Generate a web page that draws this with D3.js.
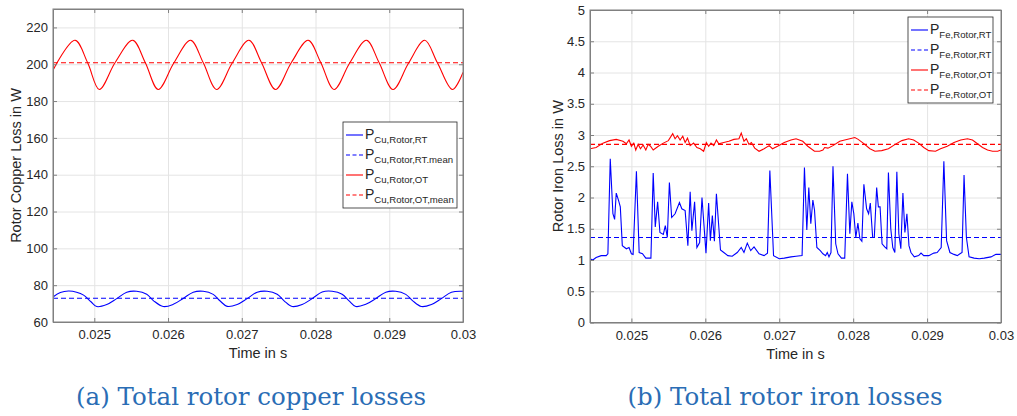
<!DOCTYPE html>
<html>
<head>
<meta charset="utf-8">
<script src="https://cdn.jsdelivr.net/npm/d3@7/dist/d3.min.js"></script>
<style>
body { margin: 0; background: #fff; }
svg { display: block; }
.tick text { font-family: "Liberation Sans", Arial, sans-serif; font-size: 13px; fill: #262626; }
</style>
</head>
<body>
<div id="chart"></div>
<script>
// shared time axis (s)
var timeDomain = [0.02444, 0.03];
var timeTicks = [0.025, 0.026, 0.027, 0.028, 0.029, 0.03];

// (a) rotor copper losses, W
var cuTicks = [60, 80, 100, 120, 140, 160, 180, 200, 220];
var cuOtTime = [0.02444, 0.024738, 0.024910, 0.025068, 0.025281, 0.025520, 0.025692, 0.025867,
    0.026080, 0.026306, 0.026478, 0.026659, 0.026872, 0.027096, 0.027268, 0.027458,
    0.027671, 0.027900, 0.028072, 0.028252, 0.028465, 0.028691, 0.028863, 0.029051,
    0.029264, 0.029481, 0.029653, 0.029856, 0.03];
var cuOtVal = [196.8, 213.0, 200.8, 186.3, 200.8, 213.0, 200.8, 186.3,
    200.8, 213.0, 200.8, 186.3, 200.8, 213.0, 200.8, 186.3,
    200.8, 213.0, 200.8, 186.3, 200.8, 213.0, 200.8, 186.3,
    200.8, 213.0, 200.8, 186.3, 195.6];
var cuRtTime = [0.02444, 0.024540, 0.024650, 0.024760, 0.024855, 0.024955,
    0.025033, 0.025169, 0.025304, 0.025440, 0.025575, 0.025711, 0.025805,
    0.025935, 0.026071, 0.026206, 0.026342, 0.026477, 0.026613, 0.026707,
    0.026802, 0.026938, 0.027073, 0.027209, 0.027344, 0.027480, 0.027574,
    0.027683, 0.027819, 0.027954, 0.028090, 0.028225, 0.028361, 0.028455,
    0.028546, 0.028682, 0.028817, 0.028953, 0.029088, 0.029224, 0.029318,
    0.029436, 0.029572, 0.029707, 0.029843, 0.03];
var cuRtVal = [73.6, 76.0, 76.8, 76.2, 74.6, 71.0,
    68.4, 69.5, 72.7, 76.2, 76.7, 75.1, 71.5,
    68.4, 69.6, 72.8, 76.2, 76.7, 75.0, 71.4,
    68.5, 69.5, 72.7, 76.2, 76.7, 75.1, 71.5,
    68.4, 69.5, 72.7, 76.3, 76.7, 75.1, 71.5,
    68.4, 69.6, 72.7, 76.2, 76.7, 75.0, 71.5,
    68.4, 69.5, 72.7, 76.2, 76.7];
var cuRtMean = 72.9;
var cuOtMean = 200.8;

// (b) rotor iron losses, W
var feTicks = [0, 0.5, 1, 1.5, 2, 2.5, 3, 3.5, 4, 4.5, 5];
var feRtTime = [0.02444, 0.024477, 0.024523, 0.024591, 0.024659, 0.024682, 0.024714, 0.024750,
    0.024773, 0.024795, 0.024827, 0.024850, 0.024877, 0.024932, 0.024968, 0.025000,
    0.025023, 0.025068, 0.025105, 0.025150, 0.025195, 0.025264, 0.025295, 0.025323,
    0.025355, 0.025386, 0.025432, 0.025459, 0.025486, 0.025514, 0.025545, 0.025591,
    0.025650, 0.025682, 0.025727, 0.025764, 0.025795, 0.025818, 0.025855, 0.025886,
    0.025923, 0.025955, 0.026009, 0.026045, 0.026068, 0.026095, 0.026123, 0.026150,
    0.026205, 0.026250, 0.026305, 0.026364, 0.026432, 0.026486, 0.026523, 0.026568,
    0.026614, 0.026659, 0.026727, 0.026795, 0.026841, 0.026873, 0.026923, 0.027000,
    0.027068, 0.027159, 0.027227, 0.027309, 0.027341, 0.027373, 0.027400, 0.027427,
    0.027455, 0.027477, 0.027509, 0.027555, 0.027591, 0.027627, 0.027650, 0.027673,
    0.027700, 0.027727, 0.027764, 0.027795, 0.027841, 0.027886, 0.027923, 0.027955,
    0.027982, 0.028009, 0.028036, 0.028064, 0.028091, 0.028118, 0.028145, 0.028182,
    0.028209, 0.028232, 0.028264, 0.028286, 0.028318, 0.028341, 0.028364, 0.028391,
    0.028427, 0.028455, 0.028477, 0.028509, 0.028536, 0.028564, 0.028591, 0.028618,
    0.028645, 0.028673, 0.028700, 0.028727, 0.028755, 0.028782, 0.028827, 0.028886,
    0.028918, 0.028955, 0.029023, 0.029091, 0.029136, 0.029191, 0.029227, 0.029264,
    0.029309, 0.029364, 0.029409, 0.029445, 0.029473, 0.029500, 0.029532, 0.029568,
    0.029636, 0.029705, 0.029773, 0.029864, 0.029932, 0.03];
var feRtVal = [1.02, 1.00, 1.04, 1.07, 1.07, 1.10, 2.62, 1.74,
    1.65, 2.07, 1.95, 1.85, 1.23, 1.18, 1.20, 1.10,
    1.09, 2.42, 1.12, 1.10, 1.03, 1.03, 2.39, 1.53,
    1.93, 1.44, 1.41, 1.55, 1.36, 2.24, 1.68, 1.74,
    1.92, 1.82, 1.79, 1.23, 2.09, 1.47, 1.93, 1.20,
    1.28, 2.00, 1.11, 1.91, 1.31, 1.71, 1.30, 2.06,
    1.16, 1.12, 1.07, 1.06, 1.12, 1.20, 1.12, 1.27,
    1.15, 1.21, 1.10, 1.07, 1.11, 2.43, 1.07, 1.02,
    1.03, 1.05, 1.06, 1.07, 2.48, 1.48, 2.16, 1.58,
    1.96, 1.80, 1.20, 1.15, 1.10, 1.07, 1.12, 1.05,
    1.12, 2.50, 1.26, 1.10, 1.03, 1.03, 2.38, 1.42,
    1.93, 1.74, 1.36, 1.59, 1.34, 1.30, 2.21, 1.82,
    1.74, 1.91, 1.36, 1.36, 2.16, 1.85, 1.85, 1.26,
    1.21, 1.18, 2.40, 1.50, 1.20, 1.12, 2.41, 1.42,
    1.18, 2.07, 1.44, 1.74, 1.23, 1.12, 1.05, 1.07,
    1.11, 1.07, 1.07, 1.11, 1.12, 1.20, 2.58, 1.31,
    1.12, 1.09, 1.07, 1.10, 1.12, 2.36, 1.36, 1.05,
    1.03, 1.02, 1.03, 1.05, 1.09, 1.09];
var feOtTime = [0.02444, 0.024523, 0.024614, 0.024705, 0.024795, 0.024886, 0.024932, 0.024968,
    0.025000, 0.025032, 0.025059, 0.025091, 0.025123, 0.025159, 0.025195, 0.025227,
    0.025259, 0.025295, 0.025364, 0.025432, 0.025500, 0.025559, 0.025591, 0.025623,
    0.025659, 0.025695, 0.025727, 0.025759, 0.025795, 0.025841, 0.025886, 0.025932,
    0.025977, 0.026014, 0.026045, 0.026077, 0.026114, 0.026150, 0.026182, 0.026250,
    0.026318, 0.026386, 0.026455, 0.026486, 0.026523, 0.026555, 0.026591, 0.026623,
    0.026668, 0.026727, 0.026795, 0.026864, 0.026909, 0.026977, 0.027068, 0.027159,
    0.027227, 0.027318, 0.027386, 0.027477, 0.027545, 0.027591, 0.027614, 0.027659,
    0.027727, 0.027818, 0.027886, 0.027955, 0.028023, 0.028068, 0.028136, 0.028227,
    0.028295, 0.028386, 0.028477, 0.028568, 0.028659, 0.028750, 0.028818, 0.028886,
    0.028955, 0.029023, 0.029114, 0.029182, 0.029273, 0.029364, 0.029455, 0.029545,
    0.029614, 0.029682, 0.029750, 0.029818, 0.029886, 0.029955, 0.03];
var feOtVal = [2.78, 2.80, 2.87, 2.91, 2.93, 2.90, 2.86, 2.92,
    2.82, 2.87, 2.76, 2.85, 2.78, 2.84, 2.76, 2.85,
    2.82, 2.76, 2.82, 2.87, 2.91, 3.02, 2.94, 2.99,
    2.92, 2.98, 2.88, 2.95, 2.83, 2.87, 2.80, 2.78,
    2.74, 2.88, 2.82, 2.87, 2.83, 2.92, 2.86, 2.88,
    2.90, 2.93, 2.94, 3.03, 2.90, 2.94, 2.85, 2.88,
    2.79, 2.74, 2.78, 2.83, 2.78, 2.82, 2.88, 2.92,
    2.94, 2.90, 2.82, 2.74, 2.74, 2.76, 2.80, 2.79,
    2.83, 2.90, 2.92, 2.94, 2.96, 2.93, 2.87, 2.78,
    2.74, 2.75, 2.78, 2.85, 2.91, 2.94, 2.92, 2.87,
    2.80, 2.75, 2.74, 2.78, 2.82, 2.88, 2.92, 2.94,
    2.92, 2.86, 2.80, 2.76, 2.74, 2.74, 2.76];
var feRtMean = 1.36;
var feOtMean = 2.85;

var BLUE = '#0000ff', RED = '#ff0000';
var AXIS = '#808080', GRID = '#e4e4e4', TEXT = '#262626';
var sansFont = '"Liberation Sans", Arial, sans-serif';

var svg = d3.select('#chart').append('svg')
    .attr('width', 1017)
    .attr('height', 416);

function zip(t, v) {
    return t.map(function (d, i) { return [d, v[i]]; });
}

function drawPanel(p) {
    var x = d3.scaleLinear().domain(timeDomain).range([p.left, p.right]);
    var y = d3.scaleLinear().domain(p.yDomain).range([p.bottom, p.top]);
    var h = p.bottom - p.top, w = p.right - p.left;
    var g = svg.append('g');

    // grid
    g.append('g')
        .attr('transform', 'translate(0,' + p.bottom + ')')
        .call(d3.axisBottom(x).tickValues(timeTicks).tickSize(-h).tickFormat(''))
        .call(function (s) { s.select('.domain').remove(); })
        .selectAll('line').attr('stroke', GRID);
    g.append('g')
        .attr('transform', 'translate(' + p.left + ',0)')
        .call(d3.axisLeft(y).tickValues(p.yTicks).tickSize(-w).tickFormat(''))
        .call(function (s) { s.select('.domain').remove(); })
        .selectAll('line').attr('stroke', GRID);

    // data lines
    var clipId = 'clip' + p.id;
    svg.append('clipPath').attr('id', clipId)
        .append('rect')
        .attr('x', p.left).attr('y', p.top)
        .attr('width', w).attr('height', h);
    var plot = g.append('g').attr('clip-path', 'url(#' + clipId + ')');

    p.series.forEach(function (s) {
        var line = d3.line()
            .x(function (d) { return x(d[0]); })
            .y(function (d) { return y(d[1]); })
            .curve(s.curve || d3.curveLinear);
        var pts = s.mean !== undefined ? [[timeDomain[0], s.mean], [timeDomain[1], s.mean]] : zip(s.t, s.v);
        plot.append('path')
            .datum(pts)
            .attr('d', line)
            .attr('fill', 'none')
            .attr('stroke', s.color)
            .attr('stroke-width', 1.1)
            .attr('stroke-dasharray', s.dash ? '5,3' : null);
    });

    // axes, ticks point inward on all four sides
    var bottom = g.append('g')
        .attr('transform', 'translate(0,' + p.bottom + ')')
        .call(d3.axisBottom(x).tickValues(timeTicks).tickSizeInner(-4).tickSizeOuter(0).tickPadding(8)
            .tickFormat(function (d) { return String(d); }));
    var left = g.append('g')
        .attr('transform', 'translate(' + p.left + ',0)')
        .call(d3.axisLeft(y).tickValues(p.yTicks).tickSizeInner(-4).tickSizeOuter(0).tickPadding(5)
            .tickFormat(function (d) { return String(d); }));
    var top = g.append('g')
        .attr('transform', 'translate(0,' + p.top + ')')
        .call(d3.axisTop(x).tickValues(timeTicks).tickSizeInner(-4).tickSizeOuter(0).tickFormat(''));
    var right = g.append('g')
        .attr('transform', 'translate(' + p.right + ',0)')
        .call(d3.axisRight(y).tickValues(p.yTicks).tickSizeInner(-4).tickSizeOuter(0).tickFormat(''));
    [bottom, left, top, right].forEach(function (a) {
        a.selectAll('.domain, line').attr('stroke', AXIS);
        a.selectAll('text').style('font-size', '13px').attr('fill', TEXT);
    });
    // full box lines (domain is only drawn over the tick range)
    g.append('rect')
        .attr('x', p.left).attr('y', p.top)
        .attr('width', w).attr('height', h)
        .attr('fill', 'none').attr('stroke', AXIS);

    // axis titles
    g.append('text')
        .attr('x', (p.left + p.right) / 2).attr('y', p.bottom + 36)
        .attr('text-anchor', 'middle')
        .style('font-family', sansFont).style('font-size', '14.5px')
        .attr('fill', TEXT)
        .text('Time in s');
    g.append('text')
        .attr('transform', 'translate(' + p.yLabelX + ',' + ((p.top + p.bottom) / 2) + ') rotate(-90)')
        .attr('text-anchor', 'middle')
        .style('font-family', sansFont).style('font-size', '14.5px')
        .attr('fill', TEXT)
        .text(p.yLabel);

    // legend
    var lg = g.append('g').attr('transform', 'translate(' + p.legend.x + ',' + p.legend.y + ')');
    lg.append('rect')
        .attr('width', p.legend.w).attr('height', p.legend.h)
        .attr('fill', '#fff').attr('stroke', TEXT).attr('stroke-width', 0.8);
    var item = lg.selectAll('.item')
        .data(p.series)
        .enter()
        .append('g')
        .attr('transform', function (d, i) { return 'translate(0,' + (13 + i * 20) + ')'; });
    item.append('line')
        .attr('x1', 3).attr('x2', 20)
        .attr('stroke', function (d) { return d.color; })
        .attr('stroke-width', 1.1)
        .attr('stroke-dasharray', function (d) { return d.dash ? '4,2.5' : null; });
    var label = item.append('text')
        .attr('x', 22).attr('y', 4)
        .style('font-family', sansFont)
        .attr('fill', TEXT);
    label.append('tspan').style('font-size', '14px').text('P');
    label.append('tspan').attr('dy', 4).style('font-size', '9.6px').text(function (d) { return d.name; });

    // caption
    svg.append('text')
        .attr('x', p.captionX).attr('y', 405)
        .attr('text-anchor', 'middle')
        .style('font-family', '"DejaVu Serif", "Liberation Serif", serif')
        .style('font-size', '24.5px')
        .attr('fill', '#2a6db5')
        .text(p.caption);
}

drawPanel({
    id: 'a', left: 53, right: 463, top: 9, bottom: 322,
    yDomain: [60, 230], yTicks: cuTicks,
    yLabel: 'Rotor Copper Loss in W', yLabelX: 21,
    legend: { x: 343, y: 122, w: 114, h: 86 },
    caption: '(a) Total rotor copper losses', captionX: 251,
    series: [
        { name: 'Cu,Rotor,RT', t: cuRtTime, v: cuRtVal, color: BLUE, curve: d3.curveCatmullRom },
        { name: 'Cu,Rotor,RT.mean', mean: cuRtMean, color: BLUE, dash: true },
        { name: 'Cu,Rotor,OT', t: cuOtTime, v: cuOtVal, color: RED, curve: d3.curveCatmullRom },
        { name: 'Cu,Rotor,OT,mean', mean: cuOtMean, color: RED, dash: true }
    ]
});

drawPanel({
    id: 'b', left: 590, right: 1001, top: 10, bottom: 322.5,
    yDomain: [0, 5], yTicks: feTicks,
    yLabel: 'Rotor Iron Loss in W', yLabelX: 563,
    legend: { x: 908, y: 17, w: 85, h: 86 },
    caption: '(b) Total rotor iron losses', captionX: 785,
    series: [
        { name: 'Fe,Rotor,RT', t: feRtTime, v: feRtVal, color: BLUE },
        { name: 'Fe,Rotor,RT', mean: feRtMean, color: BLUE, dash: true },
        { name: 'Fe,Rotor,OT', t: feOtTime, v: feOtVal, color: RED },
        { name: 'Fe,Rotor,OT', mean: feOtMean, color: RED, dash: true }
    ]
});
</script>
</body>
</html>
